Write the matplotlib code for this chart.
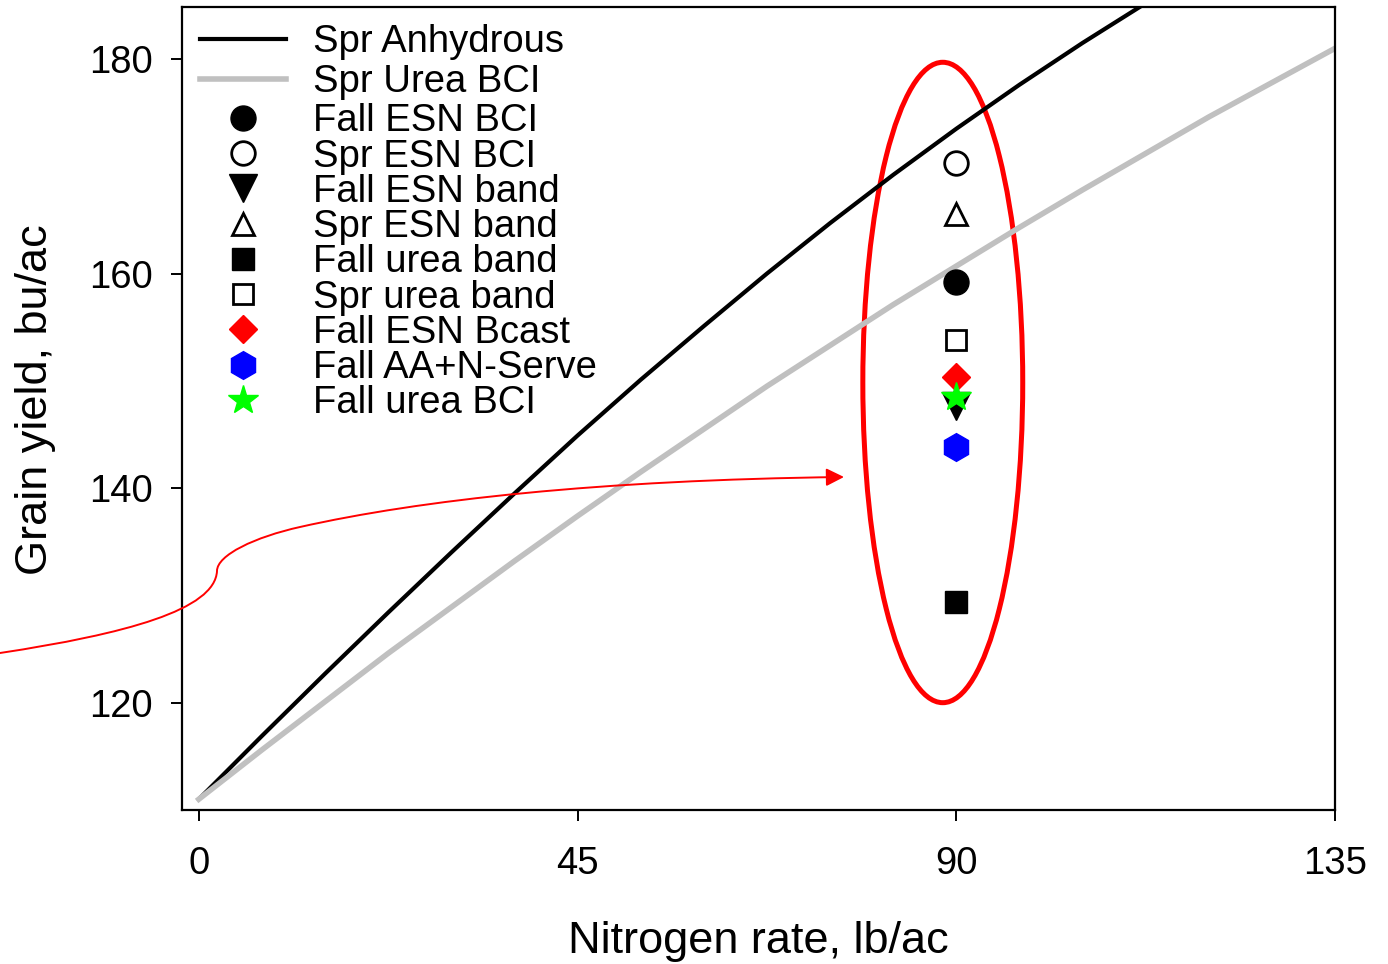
import matplotlib
matplotlib.use("Agg")
import matplotlib.pyplot as plt
from matplotlib.patches import Ellipse, FancyArrowPatch
from matplotlib.path import Path

plt.rcParams['font.family'] = ['Liberation Sans', 'DejaVu Sans']

# response curves
n_rate = [0, 7.5, 15, 22.5, 30, 37.5, 45, 52.5, 60, 67.5, 75, 82.5, 90,
          97.5, 105, 112.5, 120, 127.5, 135]
spr_anhydrous = [111.0, 116.9, 122.7, 128.4, 134.0, 139.5, 144.9, 150.1, 155.1,
                 160.0, 164.7, 169.2, 173.5, 177.6, 181.5, 185.2, 188.7, 192.0, 195.1]
spr_urea_bci = [111.0, 115.6, 120.1, 124.6, 128.9, 133.2, 137.4, 141.5, 145.5,
                149.5, 153.3, 157.1, 160.7, 164.3, 167.8, 171.2, 174.6, 177.8, 181.0]

# treatment means at 90 lb N/ac
trt_rate = 90
trt_names = ["Fall ESN BCI", "Spr ESN BCI", "Fall ESN band", "Spr ESN band",
             "Fall urea band", "Spr urea band", "Fall ESN Bcast",
             "Fall AA+N-Serve", "Fall urea BCI"]
trt_yield = [159.2, 170.35, 147.65, 165.6, 129.4, 153.8, 150.35, 143.85, 148.45]

# marker style per treatment: (marker, size, face, edge, edge width)
trt_style = [("o", 18, "black", "black", 1),
             ("o", 17, "white", "black", 2),
             ("v", 20, "black", "black", 1),
             ("^", 16, "white", "black", 2),
             ("s", 16, "black", "black", 1),
             ("s", 15, "white", "black", 2),
             ("D", 14.5, "red", "red", 1),
             ("h", 20, "blue", "blue", 1),
             ("*", 22, "#00ff00", "#00ff00", 1)]

fig = plt.figure(figsize=(13.88, 9.64), dpi=100)
ax = fig.add_axes([0.1311, 0.1598, 0.8307, 0.8329])

line_handles = []
line_handles += ax.plot(n_rate, spr_anhydrous, color="black", lw=3.0, label="Spr Anhydrous")
line_handles += ax.plot(n_rate, spr_urea_bci, color="#c0c0c0", lw=4.0, label="Spr Urea BCI")

pt_handles = []
for name, yv, (m, ms, fc, ec, mew) in zip(trt_names, trt_yield, trt_style):
    pt_handles += ax.plot([trt_rate], [yv], linestyle="none", marker=m, ms=ms,
                          mfc=fc, mec=ec, mew=mew, label=name)

ax.add_patch(Ellipse((88.4, 149.85), 19.0, 59.7, fill=False, ec="red", lw=3.6))

ax.set_xlim(-2, 135)
ax.set_ylim(110, 184.85)
ax.set_xticks([0, 45, 90, 135])
ax.set_yticks([120, 140, 160, 180])
for s in ax.spines.values():
    s.set_linewidth(1.6)
ax.tick_params(direction="out", length=8, width=1.4, labelsize=27.5)
ax.tick_params(axis="x", pad=18)
ax.tick_params(axis="y", pad=13)

ax.set_xlabel("Nitrogen rate, lb/ac", fontsize=32.5)
ax.set_ylabel("Grain yield, bu/ac", fontsize=32.5)
ax.xaxis.set_label_coords(0.5, -0.1387)
ax.yaxis.set_label_coords(-0.109, 0.511)

leg_kw = dict(loc="upper left", frameon=False, fontsize=27.5, handlelength=2.25,
              handletextpad=0.7, borderpad=0, borderaxespad=0)
leg1 = ax.legend(handles=line_handles, bbox_to_anchor=(0.0156, 0.9785),
                 labelspacing=0.1, **leg_kw)
ax.add_artist(leg1)
ax.legend(handles=pt_handles, bbox_to_anchor=(0.0156, 0.880),
          labelspacing=-0.02, **leg_kw)

# red pointer arrow, drawn in figure pixels
W, H = 1388, 964
pts = [(0, 653), (125, 634), (215, 610), (217, 571),
       (217, 555), (255, 537), (300, 527),
       (420, 500), (600, 480), (844, 477)]
codes = [Path.MOVETO] + [Path.CURVE4] * 9
verts = [(x / W, 1 - y / H) for x, y in pts]
arrow = FancyArrowPatch(path=Path(verts, codes), transform=fig.transFigure,
                        arrowstyle="-|>", mutation_scale=27, color="red", lw=1.4)
fig.add_artist(arrow)

fig.savefig("out.png", dpi=100)
